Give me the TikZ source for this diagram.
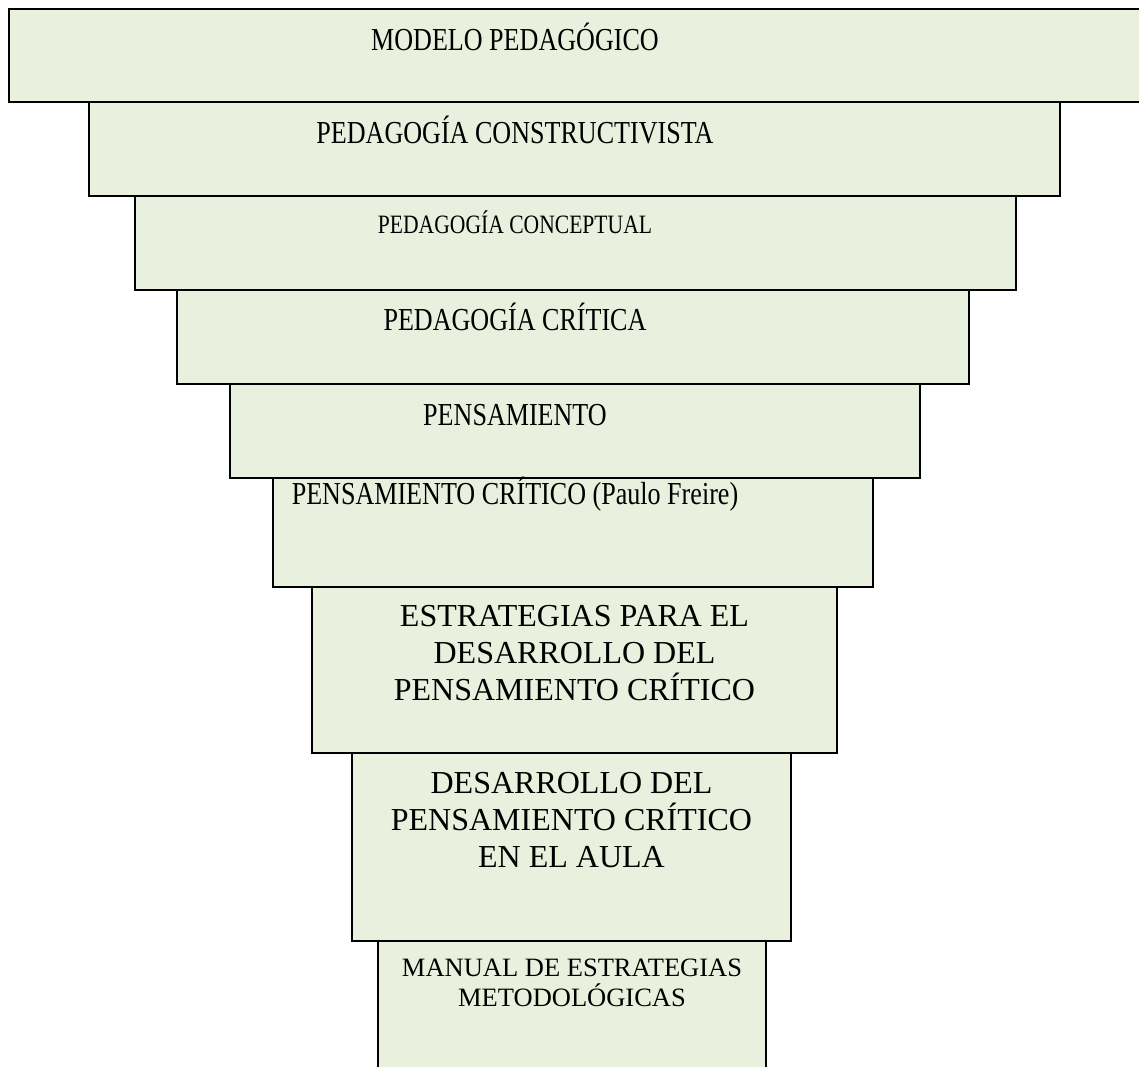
\documentclass[tikz,border=0pt]{standalone}
\usepackage{fontspec}
\setmainfont{Liberation Serif}
\newfontfamily\narrowserif[FakeStretch=0.815]{Liberation Serif}
\definecolor{layergreen}{RGB}{233,240,221}

\begin{document}
\begin{tikzpicture}[x=1pt,y=-1pt,
	layer/.style={line width=1.3pt, draw=black, fill=layergreen},
	bigtext/.style={anchor=base, inner sep=0pt, align=center, font=\fontsize{32}{37}\selectfont},
	smalltext/.style={anchor=base, inner sep=0pt, align=center, font=\fontsize{26.5}{29.5}\selectfont}]

	\clip (0,0) rectangle (1139,1066);

	%Modelo
	\draw[layer] (9,9) rectangle (1160,102);
	\node[bigtext] (modelo) at (515,50) {\narrowserif MODELO PEDAGÓGICO};

	%Constructivista
	\draw[layer] (89,102) rectangle (1060,196);
	\node[bigtext] (constructivista) at (515,143) {\narrowserif PEDAGOGÍA CONSTRUCTIVISTA};

	%Conceptual
	\draw[layer] (135,196) rectangle (1016,290);
	\node[smalltext] (conceptual) at (515,233) {\narrowserif PEDAGOGÍA CONCEPTUAL};

	%Critica
	\draw[layer] (177,290) rectangle (969,384);
	\node[bigtext] (critica) at (515,330) {\narrowserif PEDAGOGÍA CRÍTICA};

	%Pensamiento
	\draw[layer] (230,384) rectangle (920,478);
	\node[bigtext] (pensamiento) at (515,425) {\narrowserif PENSAMIENTO};

	%Freire
	\draw[layer] (273,478) rectangle (873,587);
	\node[bigtext] (freire) at (515,504) {\narrowserif PENSAMIENTO CRÍTICO (Paulo Freire)};

	%Estrategias (base is the last line)
	\draw[layer] (312,587) rectangle (837,753);
	\node[bigtext] (estrategias) at (574.5,700) {ESTRATEGIAS PARA EL\\DESARROLLO DEL\\PENSAMIENTO CRÍTICO};

	%Aula
	\draw[layer] (352,753) rectangle (791,941);
	\node[bigtext] (aula) at (571.5,867) {DESARROLLO DEL\\PENSAMIENTO CRÍTICO\\EN EL AULA};

	%Manual
	\draw[layer] (378,941) rectangle (766,1080);
	\node[smalltext] (manual) at (572,1006) {MANUAL DE ESTRATEGIAS\\METODOLÓGICAS};

\end{tikzpicture}
\end{document}
